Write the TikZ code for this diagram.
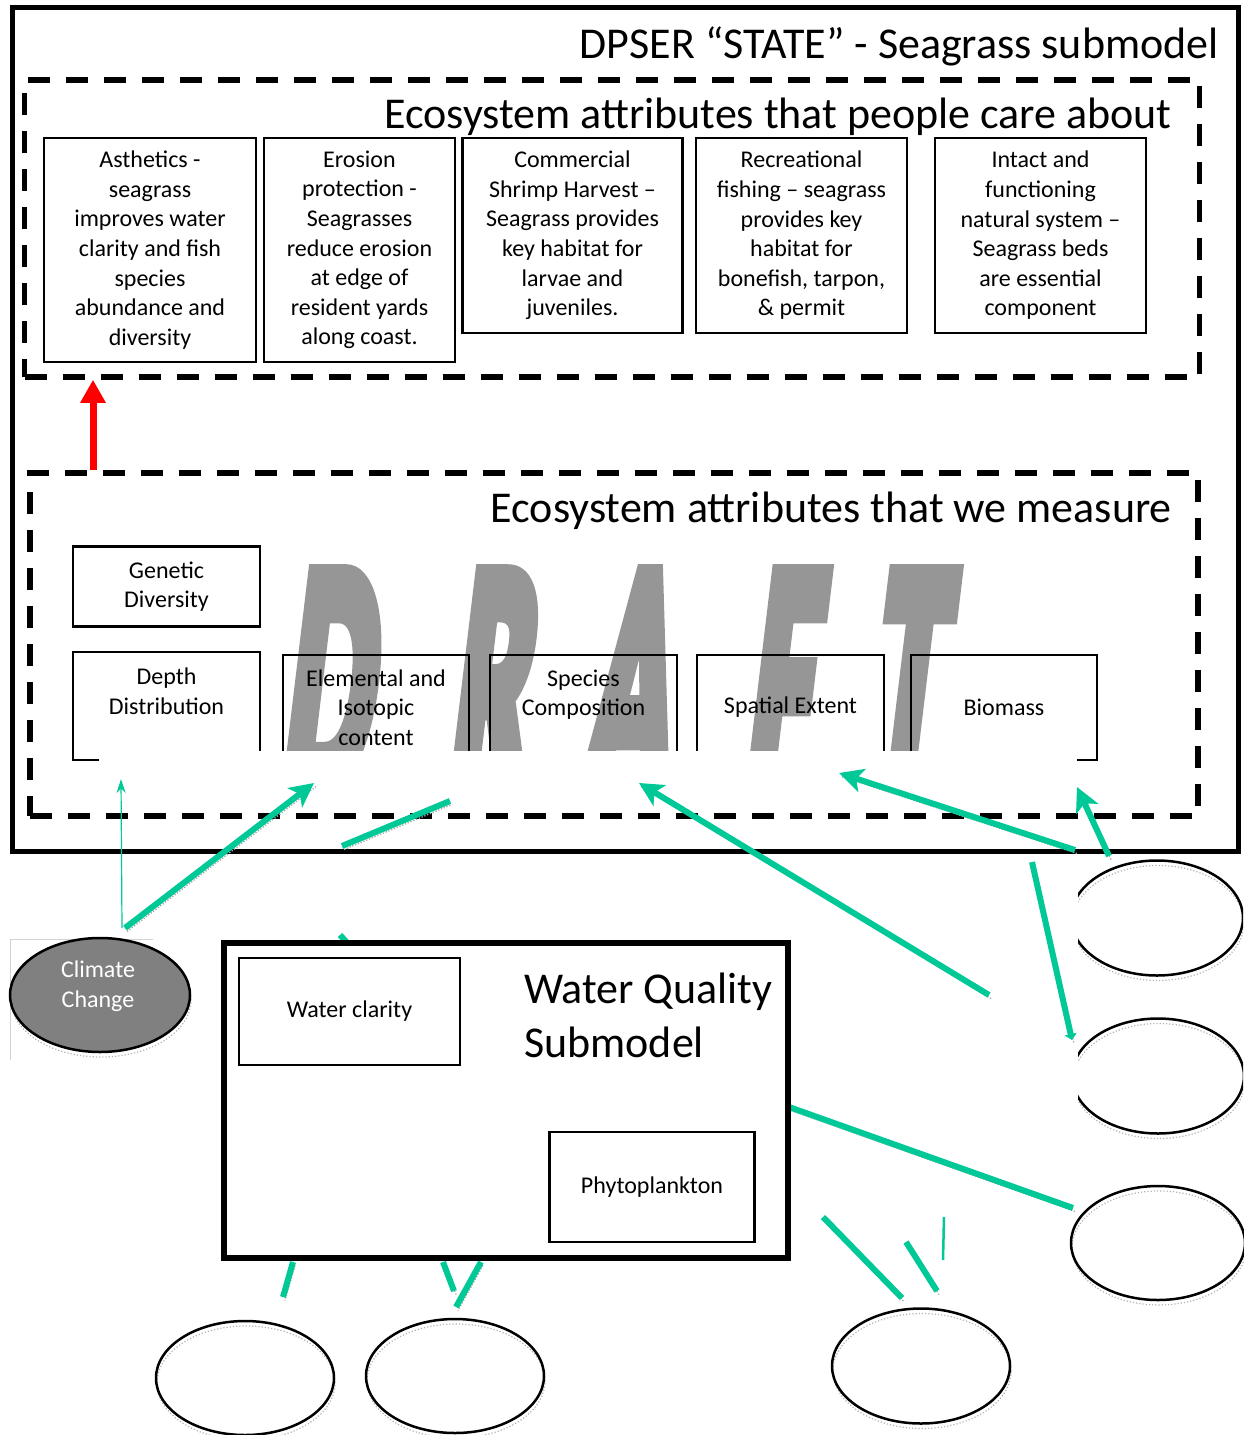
\documentclass[tikz,border=0pt]{standalone}
\usepackage{fontspec}
\setmainfont{Carlito}
\newfontfamily\draftfont{Carlito}[FakeBold=8]
\usetikzlibrary{shapes.geometric,arrows.meta}
\definecolor{arrowgreen}{RGB}{0,200,150}
\definecolor{draftgray}{RGB}{150,150,150}
\definecolor{ccgray}{RGB}{128,128,128}
\newcommand\fsbox{\fontsize{24}{29.6}\selectfont}
\newcommand\fstitle{\fontsize{44}{52}\selectfont}
\newcommand\fsdraft{\fontsize{325}{325}\selectfont}

\begin{document}
\begin{tikzpicture}[x=1pt,y=-1pt,
  framebox/.style={draw, line width=5pt, inner sep=0pt},
  dashbox/.style={draw, line width=5.5pt, dash pattern=on 22pt off 16pt, inner sep=0pt},
  attr/.style={draw, line width=2.5pt, inner sep=0pt, align=center, font=\fsbox},
  ttl/.style={font=\fstitle, inner sep=0pt},
  draftletter/.style={font=\draftfont\bfseries\fsdraft, text=draftgray, inner sep=0pt,
    anchor=base west, xslant=0.12, xscale=0.41},
  flow/.style={draw=arrowgreen, line width=6pt,
    preaction={draw=gray!70, arrows=-, line width=1.3pt, dash pattern=on 1.3pt off 1.7pt,
      transform canvas={shift={(2pt,-3.5pt)}}}},
  thinflow/.style={draw=arrowgreen, line width=1.2pt},
  bighead/.style={-{Stealth[length=24pt,width=24pt,inset=6pt]}},
  oval/.style={ellipse, draw, line width=2.5pt, inner sep=0pt,
    preaction={draw=gray!60, line width=1.2pt, dash pattern=on 1.2pt off 2pt,
      transform canvas={shift={(1pt,-5pt)}}}},
]
\useasboundingbox (0,0) rectangle (1243,1435);

% outer submodel frame and the two attribute groups
\node[framebox, minimum width=1226pt, minimum height=844pt] (state) at (625,429) {};
\node[dashbox, minimum width=1175pt, minimum height=297pt] (care) at (612,228.5) {};
\node[dashbox, minimum width=1168pt, minimum height=343pt] (measure) at (614,644.5) {};

\node[ttl, anchor=base east] (statetitle) at (1219,58) {DPSER “STATE” - Seagrass submodel};
\node[ttl, anchor=base east] (caretitle) at (1172,128) {Ecosystem attributes that people care about};
\node[ttl, anchor=base east] (meastitle) at (1172,522) {Ecosystem attributes that we measure};

% attributes that people care about
\node[attr, minimum width=212pt, minimum height=224pt] (asth) at (150,250)
  {Asthetics -\\seagrass\\improves water\\clarity and fish\\species\\abundance and\\diversity};
\node[attr, minimum width=191pt, minimum height=224pt] (eros) at (359.5,250)
  {Erosion\\protection -\\Seagrasses\\reduce erosion\\at edge of\\resident  yards\\along coast.};
\node[attr, minimum width=220pt, minimum height=195pt] (shrimp) at (572.5,235.5)
  {Commercial\\Shrimp Harvest –\\Seagrass provides\\key habitat for\\larvae and\\juveniles.};
\node[attr, minimum width=211pt, minimum height=195pt] (recfish) at (801.5,235.5)
  {Recreational\\fishing – seagrass\\provides key\\habitat for\\bonefish, tarpon,\\\& permit};
\node[attr, minimum width=211pt, minimum height=195pt] (intact) at (1040.5,235.5)
  {Intact and\\functioning\\natural system –\\Seagrass beds\\are essential\\component};

% link between the two groups
\coordinate (redx) at (93,0);
\draw[red, line width=7pt, -{Triangle[width=24pt,length=23pt]}]
  (measure.north -| redx) -- (care.south -| redx);

% watermark
\node[draftletter] (wmD) at (280,788) {D};
\node[draftletter] (wmR) at (447,788) {R};
\node[draftletter] (wmA) at (583,788) {A};
\node[draftletter] (wmF) at (744,788) {F};
\node[draftletter] (wmT) at (867,788) {T};

% attributes that we measure
\node[attr, minimum width=187pt, minimum height=80pt] (genetic) at (166.5,586.5) {Genetic\\Diversity};
\node[attr, minimum width=187pt, minimum height=108pt] (depth) at (166.5,706) {Depth\\Distribution\\\mbox{}};
\node[attr, minimum width=186pt, minimum height=105pt] (elemental) at (376,707.5) {Elemental and\\Isotopic\\content};
\node[attr, minimum width=187pt, minimum height=105pt] (species) at (583.5,707.5) {Species\\Composition\\\mbox{}};
\node[attr, minimum width=187pt, minimum height=105pt] (spatial) at (790.5,707.5) {Spatial Extent};
\node[attr, minimum width=186pt, minimum height=105pt] (biomass) at (1004,707.5) {Biomass};

% blank strip across the lower edge of the measured attributes
\fill[white] (99,751) rectangle (1077,810);

% driver links
\coordinate (a1s) at (122,928);  \coordinate (a1e) at (121,779);
\coordinate (a2s) at (125,928);  \coordinate (a2e) at (314,783);
\coordinate (a3s) at (342,846);  \coordinate (a3e) at (450,801);
\coordinate (a4s) at (989,995);  \coordinate (a4e) at (639,783);
\coordinate (a5s) at (1075,850); \coordinate (a5e) at (839,773);
\coordinate (a6s) at (1109,856); \coordinate (a6e) at (1077,787);
\coordinate (a7s) at (1032,862); \coordinate (a7e) at (1072,1040);
\coordinate (a8s) at (789,1107); \coordinate (a8e) at (1073,1208);
\coordinate (a9s) at (293,1262); \coordinate (a9e) at (283,1297);
\coordinate (b1s) at (443,1262); \coordinate (b1e) at (454,1291);
\coordinate (b2s) at (481,1262); \coordinate (b2e) at (456,1307);
\coordinate (c1s) at (823,1217); \coordinate (c1e) at (902,1298);
\coordinate (c2s) at (906,1242); \coordinate (c2e) at (937,1291);
\coordinate (c3s) at (944,1217); \coordinate (c3e) at (943,1260);
\coordinate (d1s) at (340,935);  \coordinate (d1e) at (352,948);

\draw[thinflow, -{Stealth[length=14pt,width=9pt]}] (a1s) -- (a1e);
\draw[flow, bighead] (a2s) -- (a2e);
\draw[flow] (a3s) -- (a3e);
\draw[flow, bighead] (a4s) -- (a4e);
\draw[flow, bighead] (a5s) -- (a5e);
\draw[flow, bighead] (a6s) -- (a6e);
\draw[flow, -{Triangle[width=12pt,length=6pt]}] (a7s) -- (a7e);
\draw[flow] (a8s) -- (a8e);
\draw[flow] (a9s) -- (a9e);
\draw[flow] (b1s) -- (b1e);
\draw[flow] (b2s) -- (b2e);
\draw[flow] (c1s) -- (c1e);
\draw[flow] (c2s) -- (c2e);
\draw[draw=arrowgreen, line width=2.5pt] (c3s) -- (c3e);
\draw[flow] (d1s) -- (d1e);

% water quality submodel
\node[draw, line width=6pt, fill=white, minimum width=564pt, minimum height=315pt, inner sep=0pt] (wq) at (506,1100.5) {};
\node[attr, minimum width=221pt, minimum height=107pt] (clarity) at (349.5,1011.5) {Water clarity};
\node[attr, minimum width=205pt, minimum height=110pt] (phyto) at (652,1187) {Phytoplankton};
\node[inner sep=0pt, anchor=west, align=left, font=\fontsize{44}{54}\selectfont] (wqtitle) at (524,1015)
  {Water Quality\\Submodel};

% climate change driver
\draw[gray!35, line width=0.8pt] (153,939) -- (10,939) -- (10,1060);
\node[oval, fill=ccgray, minimum width=180pt, minimum height=114pt] (climate) at (100,995) {};
\node[text=white, align=center, font=\fsbox, inner sep=0pt] (climlabel) at (98,986) {Climate\\Change};

% unlabelled drivers
\begin{scope}
  \clip (1078,0) rectangle (1243,1435);
  \node[oval, minimum width=172pt, minimum height=115pt] (drvA) at (1157,918) {};
  \node[oval, minimum width=172pt, minimum height=115pt] (drvB) at (1158,1076) {};
\end{scope}
\node[oval, minimum width=174pt, minimum height=114pt] (drvC) at (1158,1243) {};
\node[oval, minimum width=178pt, minimum height=114pt] (drvD) at (245,1378) {};
\node[oval, minimum width=178pt, minimum height=114pt] (drvE) at (455,1376) {};
\node[oval, minimum width=178pt, minimum height=115pt] (drvF) at (921,1366) {};
\end{tikzpicture}
\end{document}
